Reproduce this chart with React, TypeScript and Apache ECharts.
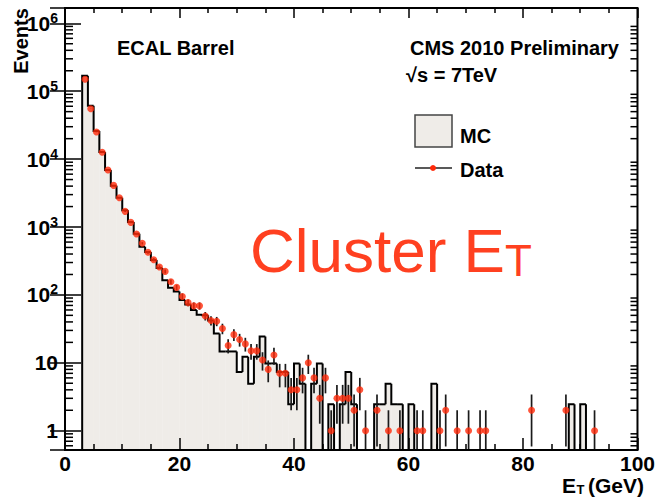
import React, { useEffect, useRef } from "react";
import * as echarts from "echarts";

// Histogram binning: 1 GeV wide bins, first bin starts at 3 GeV
const BIN_START = 3;
const BIN_WIDTH = 1;

// Simulated events per bin (bins 3..99 GeV)
const mcCounts = [
  169000, 61000, 26000, 12700, 6900, 4060, 2700, 1760, 1190, 797,
  514, 428, 327, 250, 165, 128, 112, 84, 72, 60,
  51, 50, 42, 27, 14.7, 14.7, 14.7, 7.35, 12.25, 4.9,
  12.25, 24.5, 9.8, 9.8, 7.35, 7.35, 2.45, 9.8, 4.9, 0,
  4.9, 9.8, 0, 2.45, 0, 2.45, 7.35, 2.45, 0, 0,
  0, 2.45, 2.45, 4.9, 2.45, 2.45, 0, 2.45, 0, 0,
  0, 4.9, 0, 0, 0, 0, 0, 0, 0, 0,
  0, 0, 0, 0, 0, 0, 0, 0, 0, 0,
  0, 0, 0, 0, 0, 2.45, 0, 2.45, 0, 0,
  0, 0, 0, 0, 0, 0, 0,
];

// Observed events per bin (bins 3..99 GeV)
const dataCounts = [
  150000, 55000, 25000, 12600, 6900, 4100, 2700, 1700, 1170, 789,
  575, 424, 330, 257, 222, 156, 129, 95, 77, 69,
  69, 49, 42, 41, 32, 18, 26, 22, 19, 15,
  15, 11, 8, 13, 7, 7, 4, 4, 6, 10,
  6, 3, 6, 1, 3, 3, 3, 2, 4, 1,
  0, 2, 0, 1, 0, 1, 0, 0, 1, 1,
  0, 0, 1, 2, 0, 1, 0, 1, 0, 1,
  1, 0, 0, 0, 0, 0, 0, 0, 2, 0,
  0, 0, 0, 0, 2, 0, 0, 0, 0, 1,
  0, 0, 0, 0, 0, 0, 0,
];

const X_MIN = 0;
const X_MAX = 100;
const X_STEP = 20;
const Y_MIN = 0.52;
const Y_MAX = 1.68e6;
const Y_DECADES = [0.1, 1, 10, 100, 1e3, 1e4, 1e5, 1e6];

const FONT = "'Liberation Sans', Arial, Helvetica, sans-serif";
const MC_FILL = "#efece8";
const DATA_RED = "#ff2a0a";
const TITLE_RED = "#ff4020";

const binLow = (i: number) => BIN_START + i * BIN_WIDTH;

const mcItems = mcCounts.map((v, i) => [binLow(i), v, i > 0 ? mcCounts[i - 1] : 0]);
const dataItems = dataCounts
  .map((v, i) => [binLow(i) + BIN_WIDTH / 2, v])
  .filter((d) => d[1] > 0);

// log-axis minor ticks at 2..9 x 10^k inside the plotted range
const minorTickValues: number[][] = [];
Y_DECADES.forEach((d) => {
  for (let m = 2; m <= 9; m++) {
    const v = m * d;
    if (v > Y_MIN && v < Y_MAX) minorTickValues.push([0, v]);
  }
});

function yLabel(v: number) {
  const e = Math.round(Math.log10(v));
  if (e === 0) return "{b|1}";
  if (e === 1) return "{b|10}";
  return "{b|10}{s|" + e + "}";
}

export default function App() {
  const ref = useRef<HTMLDivElement>(null);

  useEffect(() => {
    document.body.style.margin = "0";
    const chart = echarts.init(ref.current!, null, { renderer: "svg" });

    const bottomOf = (cs: any) => cs.y + cs.height;

    const bold = (size: number) => ({
      fontFamily: FONT,
      fontWeight: "bold",
      fontSize: size,
      fill: "#000",
      align: "left",
      verticalAlign: "middle",
    });

    const option: any = {
      animation: false,
      backgroundColor: "#ffffff",
      grid: {
        left: 65,
        right: 16,
        top: 8,
        bottom: 47,
        show: true,
        borderColor: "#000",
        borderWidth: 2,
        backgroundColor: "transparent",
        z: 10,
      },
      xAxis: [
        {
          type: "value",
          min: X_MIN,
          max: X_MAX,
          interval: X_STEP,
          position: "bottom",
          axisLine: { show: false },
          splitLine: { show: false },
          axisTick: { show: true, inside: true, length: 12, lineStyle: { color: "#000", width: 1.5 } },
          minorTick: { show: true, splitNumber: 4, length: 6, lineStyle: { color: "#000", width: 1.5 } },
          axisLabel: {
            show: true,
            margin: 3,
            color: "#000",
            fontFamily: FONT,
            fontWeight: "bold",
            fontSize: 21,
          },
          z: 10,
        },
        {
          type: "value",
          min: X_MIN,
          max: X_MAX,
          interval: X_STEP,
          position: "top",
          axisLine: { show: false },
          splitLine: { show: false },
          axisTick: { show: true, inside: true, length: 10, lineStyle: { color: "#000", width: 1.5 } },
          minorTick: { show: true, splitNumber: 4, length: 5, lineStyle: { color: "#000", width: 1.5 } },
          axisLabel: { show: false },
          z: 10,
        },
      ],
      yAxis: [
        {
          type: "log",
          logBase: 10,
          min: Y_MIN,
          max: Y_MAX,
          position: "left",
          axisLine: { show: false },
          splitLine: { show: false },
          axisTick: { show: true, inside: true, length: 16, lineStyle: { color: "#000", width: 1.5 } },
          axisLabel: {
            show: true,
            margin: 7,
            showMinLabel: false,
            showMaxLabel: false,
            color: "#000",
            fontFamily: FONT,
            fontWeight: "bold",
            fontSize: 21,
            formatter: (v: number) => yLabel(v),
            rich: {
              b: { fontFamily: FONT, fontWeight: "bold", fontSize: 21, color: "#000" },
              s: {
                fontFamily: FONT,
                fontWeight: "bold",
                fontSize: 14,
                color: "#000",
                padding: [0, 0, 11, 0],
              },
            },
          },
          z: 10,
        },
        {
          type: "log",
          logBase: 10,
          min: Y_MIN,
          max: Y_MAX,
          position: "right",
          axisLine: { show: false },
          splitLine: { show: false },
          axisTick: { show: true, inside: true, length: 15, lineStyle: { color: "#000", width: 1.5 } },
          axisLabel: { show: false },
          z: 10,
        },
      ],
      series: [
        {
          name: "MC fill",
          type: "custom",
          coordinateSystem: "cartesian2d",
          xAxisIndex: 0,
          yAxisIndex: 0,
          clip: true,
          z: 1,
          encode: { x: 0, y: 1 },
          data: mcItems,
          renderItem: (params: any, api: any) => {
            const lo = api.value(0);
            const v = api.value(1);
            if (!(v > 0)) return null;
            const bottom = bottomOf(params.coordSys);
            const x0 = api.coord([lo, 1])[0];
            const x1 = api.coord([lo + BIN_WIDTH, 1])[0];
            const yv = api.coord([lo, v])[1];
            return {
              type: "rect",
              shape: { x: x0, y: yv, width: x1 - x0 + 0.3, height: bottom - yv },
              style: { fill: MC_FILL },
            };
          },
        },
        {
          name: "MC",
          type: "custom",
          coordinateSystem: "cartesian2d",
          xAxisIndex: 0,
          yAxisIndex: 0,
          clip: true,
          z: 2,
          encode: { x: 0, y: 1 },
          data: mcItems,
          renderItem: (params: any, api: any) => {
            const lo = api.value(0);
            const v = api.value(1);
            const prev = api.value(2);
            const bottom = bottomOf(params.coordSys);
            const x0 = api.coord([lo, 1])[0];
            const x1 = api.coord([lo + BIN_WIDTH, 1])[0];
            const yv = v > 0 ? api.coord([lo, v])[1] : bottom;
            const yp = prev > 0 ? api.coord([lo, prev])[1] : bottom;
            return {
              type: "polyline",
              shape: { points: [[x0, yp], [x0, yv], [x1, yv]] },
              style: { stroke: "#000", lineWidth: 2, fill: "none", lineJoin: "miter" },
            };
          },
        },
        {
          name: "Data errors",
          type: "custom",
          coordinateSystem: "cartesian2d",
          xAxisIndex: 0,
          yAxisIndex: 0,
          clip: true,
          z: 3,
          encode: { x: 0, y: 1 },
          data: dataItems,
          renderItem: (params: any, api: any) => {
            const x = api.value(0);
            const v = api.value(1);
            const err = Math.sqrt(v);
            const bottom = bottomOf(params.coordSys);
            const px = api.coord([x, v])[0];
            const yHi = api.coord([x, v + err])[1];
            const yLo = v - err > Y_MIN ? api.coord([x, v - err])[1] : bottom;
            return {
              type: "line",
              shape: { x1: px, y1: yHi, x2: px, y2: yLo },
              style: { stroke: "#1a1a1a", lineWidth: 1.7 },
            };
          },
        },
        {
          name: "Data",
          type: "scatter",
          xAxisIndex: 0,
          yAxisIndex: 0,
          z: 4,
          symbol: "circle",
          symbolSize: 7,
          itemStyle: { color: DATA_RED },
          data: dataItems,
        },
        {
          name: "minor ticks",
          type: "custom",
          coordinateSystem: "cartesian2d",
          xAxisIndex: 0,
          yAxisIndex: 0,
          z: 11,
          encode: { x: 0, y: 1 },
          data: minorTickValues,
          renderItem: (params: any, api: any) => {
            const cs = params.coordSys;
            const y = api.coord([0, api.value(1)])[1];
            const st = { stroke: "#000", lineWidth: 1.5 };
            return {
              type: "group",
              children: [
                { type: "line", shape: { x1: cs.x, y1: y, x2: cs.x + 8, y2: y }, style: st },
                {
                  type: "line",
                  shape: { x1: cs.x + cs.width - 7, y1: y, x2: cs.x + cs.width, y2: y },
                  style: st,
                },
              ],
            };
          },
        },
      ],
      graphic: [
        {
          type: "text",
          x: 20.5,
          y: 41,
          rotation: Math.PI / 2,
          style: { ...bold(20), text: "Events", align: "center" },
        },
        { type: "text", x: 117, y: 48, style: { ...bold(20), text: "ECAL Barrel" } },
        { type: "text", x: 410, y: 48, style: { ...bold(20), text: "CMS 2010 Preliminary" } },
        { type: "text", x: 406, y: 75, style: { ...bold(20), text: "√s = 7TeV" } },
        {
          type: "rect",
          shape: { x: 415, y: 115, width: 37, height: 32 },
          style: { fill: MC_FILL, stroke: "#444", lineWidth: 1.5 },
        },
        { type: "text", x: 460, y: 136, style: { ...bold(20), text: "MC" } },
        {
          type: "line",
          shape: { x1: 415, y1: 168, x2: 452, y2: 168 },
          style: { stroke: "#222", lineWidth: 1.5 },
        },
        { type: "circle", shape: { cx: 433, cy: 168, r: 3 }, style: { fill: DATA_RED } },
        { type: "text", x: 460, y: 170, style: { ...bold(20), text: "Data" } },
        {
          type: "text",
          x: 250,
          y: 250,
          style: {
            text: "{m|Cluster E}{s|T}",
            align: "left",
            verticalAlign: "middle",
            rich: {
              m: { fontFamily: FONT, fontSize: 62, fill: TITLE_RED, color: TITLE_RED },
              s: {
                fontFamily: FONT,
                fontSize: 44,
                fill: TITLE_RED,
                color: TITLE_RED,
                padding: [20, 0, 0, 0],
              },
            },
          },
        },
        // axis title: E, subscript T, (GeV)
        { type: "text", x: 562, y: 485, style: { ...bold(21), text: "E" } },
        { type: "text", x: 576.5, y: 489.5, style: { ...bold(13), text: "T" } },
        { type: "text", x: 588, y: 485, style: { ...bold(21), text: "(GeV)" } },
      ],
    };

    chart.setOption(option);
    return () => chart.dispose();
  }, []);

  return <div ref={ref} style={{ width: 658, height: 497 }} />;
}
